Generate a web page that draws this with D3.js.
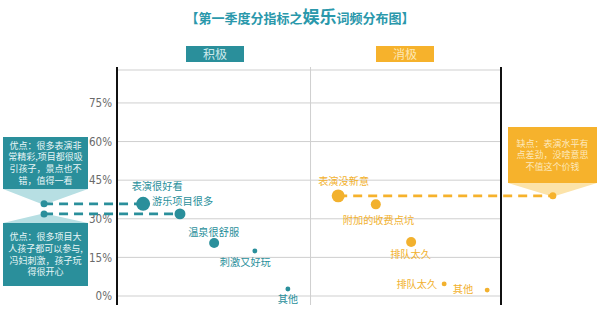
<!DOCTYPE html>
<html><head><meta charset="utf-8">
<script src="https://cdn.jsdelivr.net/npm/d3@7"></script>
<style>
html,body{margin:0;padding:0;background:#fff;}
svg{display:block;font-family:"Noto Sans CJK SC","Noto Sans",sans-serif;}
</style></head>
<body><svg id="c" width="600" height="321"></svg>
<script>
// ---- data ----
const yTicks = [0, 15, 30, 45, 60, 75];
const posLabels = ["表演很好看", "游乐项目很多", "温泉很舒服", "刺激又好玩", "其他"];
const posValues = [35.8, 31.9, 20.6, 17.5, 2.7];
const posRank   = [6.8, 16.4, 25.3, 35.9, 44.5];
const posCount  = [49, 30, 25, 6, 6];
const negLabels = ["表演没新意", "附加的收费点坑", "排队太久", "排队太久", "其他"];
const negValues = [38.9, 35.6, 21.0, 4.7, 2.3];
const negRank   = [57.6, 67.4, 76.6, 85.2, 96.4];
const negCount  = [42, 25, 25, 6, 6];
const notePos1 = ["优点：很多表演非", "常精彩,项目都很吸", "引孩子，景点也不", "错，值得一看"];
const notePos2 = ["优点：很多项目大", "人孩子都可以参与,", "冯妇刺激，孩子玩", "得很开心"];
const noteNeg  = ["缺点：表演水平有", "点差劲，没啥意思", "不值这个价钱"];
const noteAnchorRank = [-19, 113.5];

const TEAL = "#2a8f9b", TEAL_L = "#b7dfe3", ORANGE = "#f6b22c", ORANGE_L = "#fce3a9";

const svg = d3.select("#c");
const x = d3.scaleLinear().domain([0, 100]).range([117, 501]);
const y = d3.scaleLinear().domain([0, 87.8]).range([296, 70]);
const r = d3.scaleSqrt().domain([0, 49]).range([0, 7]);

// title
const t = svg.append("text").attr("x", 300).attr("y", 23).attr("text-anchor", "middle")
  .attr("fill", "#2a98ab").attr("font-weight", "bold").attr("font-size", 13);
t.append("tspan").text("【第一季度分指标之");
t.append("tspan").attr("font-size", 17).text("娱乐");
t.append("tspan").text("词频分布图】");

// header boxes
[[215, "积极", TEAL, "#cdeaec"], [405, "消极", ORANGE, "#fde7b3"]].forEach(([cx, s, f, tc]) => {
  svg.append("rect").attr("x", cx - 29).attr("y", 46).attr("width", 58).attr("height", 16).attr("fill", f);
  svg.append("text").attr("x", cx).attr("y", 58.5).attr("text-anchor", "middle").attr("font-size", 12)
    .attr("fill", tc).text(s);
});

// gridlines
const grid = yTicks.concat([87.8]);
svg.append("g").selectAll("line").data(grid).join("line")
  .attr("x1", 117).attr("x2", 501).attr("y1", d => y(d)).attr("y2", d => y(d))
  .attr("stroke", "#cfcfcf").attr("stroke-width", 1);
// middle divider
svg.append("line").attr("x1", x(50.4)).attr("x2", x(50.4)).attr("y1", 67).attr("y2", 305)
  .attr("stroke", "#cfcfcf").attr("stroke-width", 1);
// axes
const yAxis = d3.axisLeft(y).tickValues(yTicks).tickSize(0).tickPadding(5).tickFormat(d => d + "%");
const ga = svg.append("g").attr("transform", "translate(117,0)").call(yAxis);
ga.select(".domain").remove();
ga.selectAll("text").attr("font-size", 11.5).attr("fill", "#6a6a6a")
  .attr("font-family", "'Liberation Sans Narrow','DejaVu Sans Condensed',sans-serif");
[117, 501].forEach(px => svg.append("line").attr("x1", px).attr("x2", px).attr("y1", 67).attr("y2", 305)
  .attr("stroke", "#111").attr("stroke-width", 2));

// callout helper
function callout(lines, bx, by, bw, bh, ax, ay, fill, light, tcol, up) {
  const g = svg.append("g");
  const edgeY = up ? by + bh : by;
  g.append("path").attr("d", `M${bx},${edgeY} L${bx + bw},${edgeY} L${ax + 3},${ay} L${ax - 3},${ay} Z`)
    .attr("fill", light);
  g.append("rect").attr("x", bx).attr("y", by).attr("width", bw).attr("height", bh).attr("fill", fill);
  const lh = 11.6, y0 = by + bh / 2 - (lines.length - 1) * lh / 2 + 3.2;
  g.selectAll("text.l").data(lines).join("text").attr("class", "l")
    .attr("x", bx + bw / 2).attr("y", (d, i) => y0 + i * lh).attr("text-anchor", "middle")
    .attr("font-size", 9).attr("fill", tcol).text(d => d);
}
callout(notePos1, 3, 137, 85, 52, x(noteAnchorRank[0]), y(posValues[0]), TEAL, TEAL_L, "#e8f6f7", true);
callout(notePos2, 3, 223, 85, 63, x(noteAnchorRank[0]), y(posValues[1]), TEAL, TEAL_L, "#e8f6f7", false);
callout(noteNeg, 508, 127, 89, 56, x(noteAnchorRank[1]), y(negValues[0]), ORANGE, ORANGE_L, "#fde9bd", true);

// dashed leader lines
const leaders = [
  [noteAnchorRank[0], posRank[0], posValues[0], TEAL],
  [noteAnchorRank[0], posRank[1], posValues[1], TEAL],
  [negRank[0], noteAnchorRank[1], negValues[0], ORANGE]
];
leaders.forEach(([a, b, v, c]) => {
  svg.append("line").attr("x1", x(a)).attr("x2", x(b)).attr("y1", y(v)).attr("y2", y(v))
    .attr("stroke", c).attr("stroke-width", 2.6).attr("stroke-dasharray", "9,6");
});
[[noteAnchorRank[0], posValues[0], TEAL], [noteAnchorRank[0], posValues[1], TEAL], [noteAnchorRank[1], negValues[0], ORANGE]]
  .forEach(([a, v, c]) => svg.append("circle").attr("cx", x(a)).attr("cy", y(v)).attr("r", 3.5).attr("fill", c));

// bubbles & labels
const labelOff = {
  pos: [[14, -17.5, "middle"], [-28, -12.5, "start"], [-26, -11, "start"], [-35, 11, "start"], [0, 10, "middle"]],
  neg: [[-20, -15, "start"], [-33, 16, "start"], [-21, 12, "start"], [-7, 0, "end"], [-14, -1, "end"]]
};
function series(labels, vals, ranks, counts, col, offs) {
  const data = labels.map((l, i) => ({ l, v: vals[i], k: ranks[i], c: counts[i], o: offs[i] }));
  const g = svg.append("g");
  g.selectAll("circle").data(data).join("circle")
    .attr("cx", d => x(d.k)).attr("cy", d => y(d.v)).attr("r", d => r(d.c)).attr("fill", col);
  g.selectAll("text").data(data).join("text")
    .attr("x", d => x(d.k) + d.o[0]).attr("y", d => y(d.v) + d.o[1] + 3.8)
    .attr("text-anchor", d => d.o[2]).attr("font-size", 10.2).attr("fill", col).text(d => d.l);
}
series(posLabels, posValues, posRank, posCount, TEAL, labelOff.pos);
series(negLabels, negValues, negRank, negCount, "#f2b12e", labelOff.neg);
</script></body></html>
